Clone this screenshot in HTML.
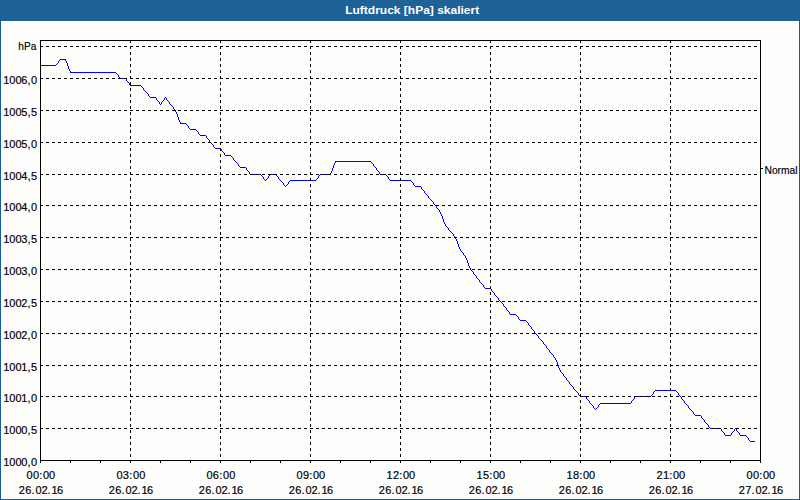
<!DOCTYPE html>
<html lang="de"><head><meta charset="utf-8"><title>Luftdruck [hPa] skaliert</title>
<style>
html,body{margin:0;padding:0;background:#fdfefc;}
body{width:800px;height:500px;overflow:hidden;position:relative;}
svg{position:absolute;left:0;top:0;display:block;}
text{font-family:"Liberation Sans", sans-serif;font-size:11px;fill:#000;stroke:#000;stroke-width:0.18px;}
.t{font-weight:bold;fill:#ffffff;stroke:none;}
.g{stroke:#000;stroke-width:1;stroke-dasharray:3 3;fill:none;}
.a{stroke:#000;stroke-width:1;fill:none;}
</style></head><body>
<svg width="800" height="500" viewBox="0 0 800 500">
<rect x="0" y="0" width="800" height="500" fill="#fdfefc"/>
<g shape-rendering="crispEdges">
<rect x="0" y="0" width="800" height="21" fill="#1e6297"/>
<rect x="0" y="21" width="1" height="479" fill="#125a98"/>
<rect x="799" y="21" width="1" height="479" fill="#125a98"/>
<rect x="0" y="499" width="800" height="1" fill="#125a98"/>

<path d="M60 59h6v1h-6zM59 60h1v1h-1zM65 60h1v1h-1zM58 61h1v1h-1zM66 61h1v1h-1zM58 62h1v1h-1zM66 62h1v1h-1zM57 63h1v1h-1zM67 63h1v1h-1zM56 64h1v1h-1zM67 64h1v1h-1zM40 65h16v1h-16zM67 65h1v1h-1zM68 66h1v1h-1zM68 67h1v1h-1zM68 68h1v1h-1zM69 69h1v1h-1zM69 70h1v1h-1zM70 71h1v1h-1zM70 72h46v1h-46zM116 73h1v1h-1zM117 74h1v1h-1zM118 75h1v1h-1zM118 76h1v1h-1zM119 77h1v1h-1zM120 78h6v1h-6zM126 79h1v1h-1zM126 80h1v1h-1zM127 81h1v1h-1zM128 82h1v1h-1zM129 83h1v1h-1zM129 84h1v1h-1zM130 85h11v1h-11zM141 86h1v1h-1zM142 87h1v1h-1zM143 88h1v1h-1zM143 89h1v1h-1zM144 90h1v1h-1zM145 91h1v1h-1zM146 92h1v1h-1zM147 93h1v1h-1zM148 94h1v1h-1zM148 95h1v1h-1zM149 96h1v1h-1zM150 97h6v1h-6zM165 97h1v1h-1zM156 98h1v1h-1zM164 98h1v1h-1zM166 98h1v1h-1zM156 99h1v1h-1zM164 99h1v1h-1zM166 99h1v1h-1zM157 100h1v1h-1zM163 100h1v1h-1zM167 100h1v1h-1zM158 101h1v1h-1zM162 101h1v1h-1zM168 101h1v1h-1zM159 102h1v1h-1zM161 102h1v1h-1zM169 102h1v1h-1zM159 103h1v1h-1zM161 103h1v1h-1zM169 103h1v1h-1zM160 104h1v1h-1zM170 104h1v1h-1zM171 105h1v1h-1zM172 106h1v1h-1zM173 107h1v1h-1zM173 108h1v1h-1zM174 109h1v1h-1zM175 110h1v1h-1zM175 111h1v1h-1zM176 112h1v1h-1zM176 113h1v1h-1zM177 114h1v1h-1zM177 115h1v1h-1zM177 116h1v1h-1zM178 117h1v1h-1zM178 118h1v1h-1zM178 119h1v1h-1zM179 120h1v1h-1zM179 121h1v1h-1zM180 122h1v1h-1zM180 123h6v1h-6zM186 124h1v1h-1zM187 125h1v1h-1zM188 126h1v1h-1zM188 127h1v1h-1zM189 128h1v1h-1zM190 129h6v1h-6zM196 130h1v1h-1zM197 131h1v1h-1zM198 132h1v1h-1zM198 133h1v1h-1zM199 134h1v1h-1zM200 135h6v1h-6zM206 136h1v1h-1zM206 137h1v1h-1zM207 138h1v1h-1zM208 139h1v1h-1zM209 140h1v1h-1zM209 141h1v1h-1zM210 142h1v1h-1zM211 143h1v1h-1zM212 144h1v1h-1zM213 145h1v1h-1zM213 146h1v1h-1zM214 147h1v1h-1zM215 148h6v1h-6zM221 149h1v1h-1zM221 150h1v1h-1zM222 151h1v1h-1zM223 152h1v1h-1zM224 153h1v1h-1zM224 154h1v1h-1zM225 155h6v1h-6zM231 156h1v1h-1zM232 157h1v1h-1zM233 158h1v1h-1zM233 159h1v1h-1zM234 160h1v1h-1zM235 161h1v1h-1zM335 161h36v1h-36zM236 162h1v1h-1zM335 162h1v1h-1zM371 162h1v1h-1zM237 163h1v1h-1zM334 163h1v1h-1zM372 163h1v1h-1zM238 164h1v1h-1zM334 164h1v1h-1zM373 164h1v1h-1zM238 165h1v1h-1zM333 165h1v1h-1zM373 165h1v1h-1zM239 166h1v1h-1zM333 166h1v1h-1zM374 166h1v1h-1zM240 167h6v1h-6zM333 167h1v1h-1zM375 167h1v1h-1zM246 168h1v1h-1zM332 168h1v1h-1zM376 168h1v1h-1zM246 169h1v1h-1zM332 169h1v1h-1zM376 169h1v1h-1zM247 170h1v1h-1zM332 170h1v1h-1zM377 170h1v1h-1zM248 171h1v1h-1zM331 171h1v1h-1zM378 171h1v1h-1zM249 172h1v1h-1zM331 172h1v1h-1zM379 172h1v1h-1zM249 173h1v1h-1zM330 173h1v1h-1zM379 173h1v1h-1zM250 174h11v1h-11zM270 174h6v1h-6zM320 174h11v1h-11zM380 174h6v1h-6zM261 175h1v1h-1zM269 175h1v1h-1zM276 175h1v1h-1zM319 175h1v1h-1zM386 175h1v1h-1zM262 176h1v1h-1zM268 176h1v1h-1zM277 176h1v1h-1zM318 176h1v1h-1zM387 176h1v1h-1zM263 177h1v1h-1zM268 177h1v1h-1zM278 177h1v1h-1zM318 177h1v1h-1zM388 177h1v1h-1zM263 178h1v1h-1zM267 178h1v1h-1zM278 178h1v1h-1zM317 178h1v1h-1zM388 178h1v1h-1zM264 179h1v1h-1zM266 179h1v1h-1zM279 179h1v1h-1zM316 179h1v1h-1zM389 179h1v1h-1zM265 180h1v1h-1zM280 180h1v1h-1zM290 180h26v1h-26zM390 180h21v1h-21zM281 181h1v1h-1zM289 181h1v1h-1zM411 181h1v1h-1zM282 182h1v1h-1zM288 182h1v1h-1zM412 182h1v1h-1zM283 183h1v1h-1zM288 183h1v1h-1zM413 183h1v1h-1zM283 184h1v1h-1zM287 184h1v1h-1zM413 184h1v1h-1zM284 185h1v1h-1zM286 185h1v1h-1zM414 185h1v1h-1zM285 186h1v1h-1zM415 186h6v1h-6zM421 187h1v1h-1zM421 188h1v1h-1zM422 189h1v1h-1zM423 190h1v1h-1zM424 191h1v1h-1zM424 192h1v1h-1zM425 193h1v1h-1zM426 194h1v1h-1zM427 195h1v1h-1zM428 196h1v1h-1zM428 197h1v1h-1zM429 198h1v1h-1zM430 199h1v1h-1zM431 200h1v1h-1zM432 201h1v1h-1zM433 202h1v1h-1zM433 203h1v1h-1zM434 204h1v1h-1zM435 205h1v1h-1zM436 206h1v1h-1zM436 207h1v1h-1zM437 208h1v1h-1zM438 209h1v1h-1zM439 210h1v1h-1zM439 211h1v1h-1zM440 212h1v1h-1zM440 213h1v1h-1zM441 214h1v1h-1zM441 215h1v1h-1zM442 216h1v1h-1zM442 217h1v1h-1zM442 218h1v1h-1zM443 219h1v1h-1zM443 220h1v1h-1zM443 221h1v1h-1zM444 222h1v1h-1zM444 223h1v1h-1zM445 224h1v1h-1zM445 225h1v1h-1zM446 226h1v1h-1zM447 227h1v1h-1zM448 228h1v1h-1zM448 229h1v1h-1zM449 230h1v1h-1zM450 231h1v1h-1zM451 232h1v1h-1zM452 233h1v1h-1zM453 234h1v1h-1zM453 235h1v1h-1zM454 236h1v1h-1zM455 237h1v1h-1zM455 238h1v1h-1zM456 239h1v1h-1zM456 240h1v1h-1zM457 241h1v1h-1zM457 242h1v1h-1zM457 243h1v1h-1zM458 244h1v1h-1zM458 245h1v1h-1zM458 246h1v1h-1zM459 247h1v1h-1zM459 248h1v1h-1zM460 249h1v1h-1zM460 250h1v1h-1zM461 251h1v1h-1zM462 252h1v1h-1zM463 253h1v1h-1zM463 254h1v1h-1zM464 255h1v1h-1zM465 256h1v1h-1zM465 257h1v1h-1zM466 258h1v1h-1zM466 259h1v1h-1zM467 260h1v1h-1zM467 261h1v1h-1zM467 262h1v1h-1zM468 263h1v1h-1zM468 264h1v1h-1zM468 265h1v1h-1zM469 266h1v1h-1zM469 267h1v1h-1zM470 268h1v1h-1zM470 269h1v1h-1zM471 270h1v1h-1zM472 271h1v1h-1zM473 272h1v1h-1zM473 273h1v1h-1zM474 274h1v1h-1zM475 275h1v1h-1zM476 276h1v1h-1zM476 277h1v1h-1zM477 278h1v1h-1zM478 279h1v1h-1zM479 280h1v1h-1zM479 281h1v1h-1zM480 282h1v1h-1zM481 283h1v1h-1zM482 284h1v1h-1zM483 285h1v1h-1zM483 286h1v1h-1zM484 287h1v1h-1zM485 288h6v1h-6zM491 289h1v1h-1zM491 290h1v1h-1zM492 291h1v1h-1zM493 292h1v1h-1zM494 293h1v1h-1zM494 294h1v1h-1zM495 295h1v1h-1zM496 296h1v1h-1zM497 297h1v1h-1zM498 298h1v1h-1zM498 299h1v1h-1zM499 300h1v1h-1zM500 301h1v1h-1zM501 302h1v1h-1zM502 303h1v1h-1zM503 304h1v1h-1zM503 305h1v1h-1zM504 306h1v1h-1zM505 307h1v1h-1zM506 308h1v1h-1zM506 309h1v1h-1zM507 310h1v1h-1zM508 311h1v1h-1zM509 312h1v1h-1zM509 313h1v1h-1zM510 314h6v1h-6zM516 315h1v1h-1zM517 316h1v1h-1zM518 317h1v1h-1zM518 318h1v1h-1zM519 319h1v1h-1zM520 320h6v1h-6zM526 321h1v1h-1zM527 322h1v1h-1zM528 323h1v1h-1zM528 324h1v1h-1zM529 325h1v1h-1zM530 326h1v1h-1zM531 327h1v1h-1zM531 328h1v1h-1zM532 329h1v1h-1zM533 330h1v1h-1zM534 331h1v1h-1zM534 332h1v1h-1zM535 333h1v1h-1zM536 334h1v1h-1zM537 335h1v1h-1zM538 336h1v1h-1zM538 337h1v1h-1zM539 338h1v1h-1zM540 339h1v1h-1zM541 340h1v1h-1zM542 341h1v1h-1zM543 342h1v1h-1zM543 343h1v1h-1zM544 344h1v1h-1zM545 345h1v1h-1zM546 346h1v1h-1zM546 347h1v1h-1zM547 348h1v1h-1zM548 349h1v1h-1zM549 350h1v1h-1zM549 351h1v1h-1zM550 352h1v1h-1zM551 353h1v1h-1zM552 354h1v1h-1zM553 355h1v1h-1zM553 356h1v1h-1zM554 357h1v1h-1zM555 358h1v1h-1zM555 359h1v1h-1zM556 360h1v1h-1zM556 361h1v1h-1zM557 362h1v1h-1zM557 363h1v1h-1zM557 364h1v1h-1zM558 365h1v1h-1zM558 366h1v1h-1zM558 367h1v1h-1zM559 368h1v1h-1zM559 369h1v1h-1zM560 370h1v1h-1zM560 371h1v1h-1zM561 372h1v1h-1zM562 373h1v1h-1zM563 374h1v1h-1zM563 375h1v1h-1zM564 376h1v1h-1zM565 377h1v1h-1zM566 378h1v1h-1zM566 379h1v1h-1zM567 380h1v1h-1zM568 381h1v1h-1zM569 382h1v1h-1zM569 383h1v1h-1zM570 384h1v1h-1zM571 385h1v1h-1zM572 386h1v1h-1zM573 387h1v1h-1zM573 388h1v1h-1zM574 389h1v1h-1zM575 390h1v1h-1zM655 390h21v1h-21zM576 391h1v1h-1zM654 391h1v1h-1zM676 391h1v1h-1zM577 392h1v1h-1zM653 392h1v1h-1zM677 392h1v1h-1zM578 393h1v1h-1zM653 393h1v1h-1zM678 393h1v1h-1zM578 394h1v1h-1zM652 394h1v1h-1zM678 394h1v1h-1zM579 395h1v1h-1zM651 395h1v1h-1zM679 395h1v1h-1zM580 396h6v1h-6zM635 396h16v1h-16zM680 396h1v1h-1zM586 397h1v1h-1zM634 397h1v1h-1zM681 397h1v1h-1zM586 398h1v1h-1zM634 398h1v1h-1zM681 398h1v1h-1zM587 399h1v1h-1zM633 399h1v1h-1zM682 399h1v1h-1zM588 400h1v1h-1zM632 400h1v1h-1zM683 400h1v1h-1zM589 401h1v1h-1zM631 401h1v1h-1zM684 401h1v1h-1zM589 402h1v1h-1zM631 402h1v1h-1zM684 402h1v1h-1zM590 403h1v1h-1zM600 403h31v1h-31zM685 403h1v1h-1zM591 404h1v1h-1zM599 404h1v1h-1zM686 404h1v1h-1zM592 405h1v1h-1zM598 405h1v1h-1zM687 405h1v1h-1zM593 406h1v1h-1zM598 406h1v1h-1zM688 406h1v1h-1zM593 407h1v1h-1zM597 407h1v1h-1zM688 407h1v1h-1zM594 408h1v1h-1zM596 408h1v1h-1zM689 408h1v1h-1zM595 409h1v1h-1zM690 409h1v1h-1zM691 410h1v1h-1zM692 411h1v1h-1zM693 412h1v1h-1zM693 413h1v1h-1zM694 414h1v1h-1zM695 415h6v1h-6zM701 416h1v1h-1zM701 417h1v1h-1zM702 418h1v1h-1zM703 419h1v1h-1zM704 420h1v1h-1zM704 421h1v1h-1zM705 422h1v1h-1zM706 423h1v1h-1zM707 424h1v1h-1zM708 425h1v1h-1zM708 426h1v1h-1zM709 427h1v1h-1zM710 428h11v1h-11zM735 428h1v1h-1zM721 429h1v1h-1zM734 429h1v1h-1zM736 429h1v1h-1zM721 430h1v1h-1zM734 430h1v1h-1zM736 430h1v1h-1zM722 431h1v1h-1zM733 431h1v1h-1zM737 431h1v1h-1zM723 432h1v1h-1zM732 432h1v1h-1zM738 432h1v1h-1zM724 433h1v1h-1zM731 433h1v1h-1zM739 433h1v1h-1zM724 434h1v1h-1zM731 434h1v1h-1zM739 434h1v1h-1zM725 435h6v1h-6zM740 435h6v1h-6zM746 436h1v1h-1zM747 437h1v1h-1zM748 438h1v1h-1zM748 439h1v1h-1zM749 440h1v1h-1zM750 441h5v1h-5z" fill="#0000ff"/>
<line class="g" x1="40" y1="46.5" x2="757" y2="46.5"/>
<line class="g" x1="40" y1="78.5" x2="757" y2="78.5"/>
<line class="g" x1="40" y1="110.5" x2="757" y2="110.5"/>
<line class="g" x1="40" y1="142.5" x2="757" y2="142.5"/>
<line class="g" x1="40" y1="174.5" x2="757" y2="174.5"/>
<line class="g" x1="40" y1="205.5" x2="757" y2="205.5"/>
<line class="g" x1="40" y1="237.5" x2="757" y2="237.5"/>
<line class="g" x1="40" y1="269.5" x2="757" y2="269.5"/>
<line class="g" x1="40" y1="301.5" x2="757" y2="301.5"/>
<line class="g" x1="40" y1="333.5" x2="757" y2="333.5"/>
<line class="g" x1="40" y1="365.5" x2="757" y2="365.5"/>
<line class="g" x1="40" y1="396.5" x2="757" y2="396.5"/>
<line class="g" x1="40" y1="428.5" x2="757" y2="428.5"/>
<line class="g" x1="130.5" y1="40" x2="130.5" y2="460"/>
<line class="g" x1="220.5" y1="40" x2="220.5" y2="460"/>
<line class="g" x1="310.5" y1="40" x2="310.5" y2="460"/>
<line class="g" x1="400.5" y1="40" x2="400.5" y2="460"/>
<line class="g" x1="490.5" y1="40" x2="490.5" y2="460"/>
<line class="g" x1="580.5" y1="40" x2="580.5" y2="460"/>
<line class="g" x1="670.5" y1="40" x2="670.5" y2="460"/>
<rect class="a" x="40.5" y="40.5" width="720" height="420"/>
<rect x="40" y="461" width="1" height="2" fill="#000"/>
<rect x="70" y="461" width="1" height="2" fill="#000"/>
<rect x="100" y="461" width="1" height="2" fill="#000"/>
<rect x="130" y="461" width="1" height="2" fill="#000"/>
<rect x="160" y="461" width="1" height="2" fill="#000"/>
<rect x="190" y="461" width="1" height="2" fill="#000"/>
<rect x="220" y="461" width="1" height="2" fill="#000"/>
<rect x="250" y="461" width="1" height="2" fill="#000"/>
<rect x="280" y="461" width="1" height="2" fill="#000"/>
<rect x="310" y="461" width="1" height="2" fill="#000"/>
<rect x="340" y="461" width="1" height="2" fill="#000"/>
<rect x="370" y="461" width="1" height="2" fill="#000"/>
<rect x="400" y="461" width="1" height="2" fill="#000"/>
<rect x="430" y="461" width="1" height="2" fill="#000"/>
<rect x="460" y="461" width="1" height="2" fill="#000"/>
<rect x="490" y="461" width="1" height="2" fill="#000"/>
<rect x="520" y="461" width="1" height="2" fill="#000"/>
<rect x="550" y="461" width="1" height="2" fill="#000"/>
<rect x="580" y="461" width="1" height="2" fill="#000"/>
<rect x="610" y="461" width="1" height="2" fill="#000"/>
<rect x="640" y="461" width="1" height="2" fill="#000"/>
<rect x="670" y="461" width="1" height="2" fill="#000"/>
<rect x="700" y="461" width="1" height="2" fill="#000"/>
<rect x="730" y="461" width="1" height="2" fill="#000"/>
<rect x="760" y="461" width="1" height="2" fill="#000"/>
<rect x="761" y="168" width="2" height="1" fill="#000"/>
</g>
<text class="t" x="345.2" y="14" textLength="134" lengthAdjust="spacingAndGlyphs">Luftdruck [hPa] skaliert</text>
<text x="18.3" y="50" textLength="18" lengthAdjust="spacingAndGlyphs">hPa</text>
<text x="3.2 9.3 15.4 21.3 27.4 31.1" y="84">1006,0</text>
<text x="3.2 9.3 15.4 21.3 27.4 31.1" y="116">1005,5</text>
<text x="3.2 9.3 15.4 21.3 27.4 31.1" y="148">1005,0</text>
<text x="3.2 9.3 15.4 21.3 27.4 31.1" y="180">1004,5</text>
<text x="3.2 9.3 15.4 21.3 27.4 31.1" y="211">1004,0</text>
<text x="3.2 9.3 15.4 21.3 27.4 31.1" y="243">1003,5</text>
<text x="3.2 9.3 15.4 21.3 27.4 31.1" y="275">1003,0</text>
<text x="3.2 9.3 15.4 21.3 27.4 31.1" y="307">1002,5</text>
<text x="3.2 9.3 15.4 21.3 27.4 31.1" y="339">1002,0</text>
<text x="3.2 9.3 15.4 21.3 27.4 31.1" y="371">1001,5</text>
<text x="3.2 9.3 15.4 21.3 27.4 31.1" y="402">1001,0</text>
<text x="3.2 9.3 15.4 21.3 27.4 31.1" y="434">1000,5</text>
<text x="3.2 9.3 15.4 21.3 27.4 31.1" y="466">1000,0</text>
<text x="26.5 32.9 39.3 43.0 49.1" y="479">00:00</text>
<text x="18.8 25.2 31.6 35.4 41.5 47.6 51.4 57.1" y="494">26.02.16</text>
<text x="116.5 122.8 129.3 133.0 139.2" y="479">03:00</text>
<text x="108.8 115.2 121.6 125.4 131.5 137.6 141.4 147.1" y="494">26.02.16</text>
<text x="206.5 212.8 219.3 223.0 229.2" y="479">06:00</text>
<text x="198.8 205.2 211.6 215.4 221.5 227.6 231.4 237.1" y="494">26.02.16</text>
<text x="296.5 302.9 309.3 313.0 319.1" y="479">09:00</text>
<text x="288.8 295.2 301.6 305.4 311.5 317.6 321.4 327.1" y="494">26.02.16</text>
<text x="386.5 392.9 399.3 403.0 409.1" y="479">12:00</text>
<text x="378.8 385.2 391.6 395.4 401.5 407.6 411.4 417.1" y="494">26.02.16</text>
<text x="476.5 482.9 489.3 493.0 499.1" y="479">15:00</text>
<text x="468.8 475.2 481.6 485.4 491.5 497.6 501.4 507.1" y="494">26.02.16</text>
<text x="566.5 572.9 579.3 583.0 589.1" y="479">18:00</text>
<text x="558.8 565.2 571.6 575.4 581.5 587.6 591.4 597.1" y="494">26.02.16</text>
<text x="656.5 662.9 669.3 673.0 679.1" y="479">21:00</text>
<text x="648.8 655.2 661.6 665.4 671.5 677.6 681.4 687.1" y="494">26.02.16</text>
<text x="746.5 752.9 759.3 763.0 769.1" y="479">00:00</text>
<text x="738.8 745.2 751.6 755.4 761.5 767.6 771.4 777.1" y="494">27.02.16</text>
<text x="764.5" y="174" textLength="33" lengthAdjust="spacingAndGlyphs">Normal</text>
</svg></body></html>
